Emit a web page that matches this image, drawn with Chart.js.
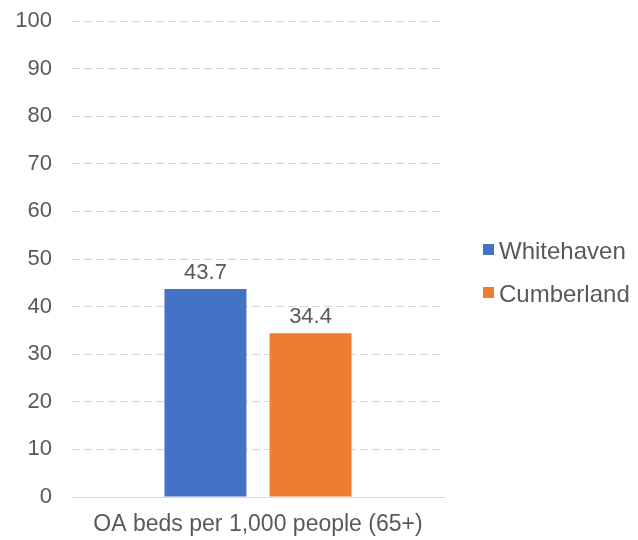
<!DOCTYPE html>
<html>
<head>
<meta charset="utf-8">
<script src="https://cdn.jsdelivr.net/npm/chart.js@4.4.1/dist/chart.umd.min.js"></script>
<style>
html,body{margin:0;padding:0;background:#fff;}
#wrap{width:638px;height:540px;position:relative;font-family:'Liberation Sans',Arial,sans-serif;}
#legend{position:absolute;left:483px;top:239px;margin:0;padding:0;list-style:none;color:#595959;font-size:24px;line-height:24px;}
#legend li{position:relative;height:24px;margin-bottom:19px;padding-left:16px;white-space:nowrap;}
#legend li span{position:absolute;left:0;top:5px;width:11px;height:11px;}
</style>
</head>
<body>
<div id="wrap"><canvas id="c" width="638" height="540"></canvas><ul id="legend"></ul></div>
<script>
const categories = ["OA beds per 1,000 people (65+)"];
const seriesNames = ["Whitehaven", "Cumberland"];
const whitehaven = [43.7];
const cumberland = [34.4];
const yTicks = [0, 10, 20, 30, 40, 50, 60, 70, 80, 90, 100];
const seriesColors = ['#4472C4', '#ED7D31'];

const FONT = "'Liberation Sans', Arial, sans-serif";
const TXT = '#595959';

const valueLabels = {
  id: 'valueLabels',
  afterDatasetsDraw(chart) {
    const ctx = chart.ctx;
    ctx.save();
    ctx.font = '22px ' + FONT;
    ctx.fillStyle = TXT;
    ctx.textAlign = 'center';
    ctx.textBaseline = 'alphabetic';
    chart.data.datasets.forEach((ds, i) => {
      const meta = chart.getDatasetMeta(i);
      meta.data.forEach((el, j) => {
        ctx.fillText(ds.data[j].toFixed(1), el.x, el.y - 10);
      });
    });
    ctx.restore();
  }
};

const chart = new Chart(document.getElementById('c'), {
  type: 'bar',
  data: {
    labels: categories,
    datasets: [
      { label: seriesNames[0], data: whitehaven, backgroundColor: seriesColors[0], categoryPercentage: 0.565, barPercentage: 0.78 },
      { label: seriesNames[1], data: cumberland, backgroundColor: seriesColors[1], categoryPercentage: 0.565, barPercentage: 0.78 }
    ]
  },
  options: {
    responsive: false,
    animation: false,
    devicePixelRatio: 1,
    layout: { padding: { top: 21, left: 15, right: 194, bottom: 0 } },
    plugins: {
      legend: { display: false },
      tooltip: { enabled: false }
    },
    scales: {
      x: {
        grid: { display: false, drawTicks: false },
        border: { display: true, color: '#d9d9d9', width: 1 },
        ticks: { color: TXT, font: { family: FONT, size: 23 }, padding: 14 },
        afterFit(s) { s.height = 43; s.paddingLeft = 0; s.paddingRight = 0; }
      },
      y: {
        min: 0, max: 100,
        afterBuildTicks(axis) { axis.ticks = yTicks.map(v => ({ value: v })); },
        grid: {
          drawTicks: false,
          color: ctx => ctx.tick && ctx.tick.value === 0 ? 'rgba(0,0,0,0)' : '#d6d6d6',
          lineWidth: 1
        },
        border: { display: false, dash: [8, 4] },
        ticks: { color: TXT, font: { family: FONT, size: 22 }, padding: 20 },
        afterFit(s) { s.width = 57; s.paddingTop = 0; s.paddingBottom = 0; }
      }
    }
  },
  plugins: [valueLabels]
});

const legendEl = document.getElementById('legend');
chart.data.datasets.forEach((ds) => {
  const li = document.createElement('li');
  const sw = document.createElement('span');
  sw.style.background = ds.backgroundColor;
  li.appendChild(sw);
  li.appendChild(document.createTextNode(ds.label));
  legendEl.appendChild(li);
});
</script>
</body>
</html>
